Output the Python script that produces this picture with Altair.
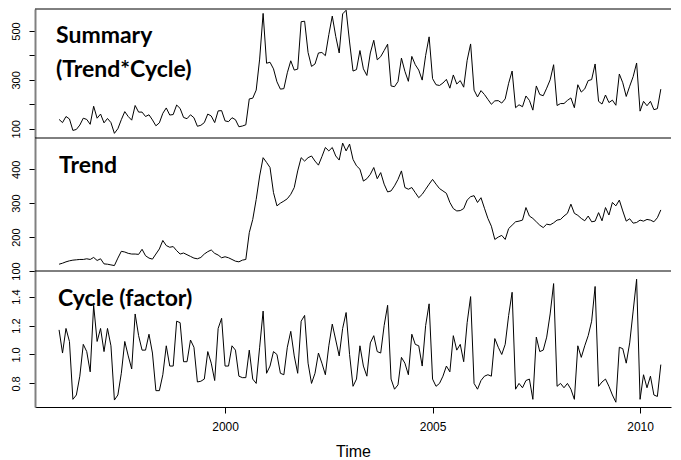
import altair as alt
import pandas as pd

# ---- data (monthly, Jan 1996 .. Jul 2010) ----
start_year = 1996

summary = [
    138, 125, 150, 140, 93, 97, 115, 143, 138, 118, 192, 143,
    160, 124, 142, 125, 81, 100, 137, 170, 150, 135, 195, 168,
    168, 150, 157, 136, 112, 124, 163, 185, 156, 158, 197, 183,
    146, 141, 157, 145, 110, 114, 125, 160, 152, 125, 173, 174,
    132, 129, 145, 137, 108, 111, 116, 222, 225, 258, 385, 572,
    368, 372, 345, 292, 262, 264, 329, 378, 340, 344, 538, 540,
    412, 355, 365, 410, 412, 399, 485, 561, 478, 410, 570, 585,
    455, 336, 342, 420, 345, 318, 410, 462, 382, 395, 420, 446,
    275, 272, 293, 389, 335, 294, 396, 362, 340, 299, 400, 476,
    305, 280, 277, 287, 302, 266, 320, 283, 297, 270, 380, 447,
    258, 230, 256, 240, 220, 200, 214, 215, 205, 222, 286, 336,
    186, 198, 190, 234, 216, 176, 275, 240, 235, 266, 300, 362,
    195, 203, 203, 216, 226, 186, 280, 250, 263, 297, 301, 365,
    212, 201, 238, 207, 217, 196, 324, 288, 232, 274, 313, 369,
    172, 212, 194, 212, 178, 182, 262,
]

trend = [
    120, 123, 127, 130, 132, 133, 134, 134, 136, 134, 140, 131,
    136, 121, 120, 118, 116, 138, 158, 156, 152, 150, 150, 149,
    164, 145, 138, 135, 150, 165, 190, 175, 170, 172, 160, 150,
    153, 148, 143, 138, 136, 140, 150, 157, 162, 152, 147, 139,
    142, 139, 134, 129, 127, 132, 134, 213, 252, 311, 380, 434,
    420, 405, 331, 292, 300, 306, 313, 326, 346, 395, 434, 424,
    434, 439, 424, 412, 437, 464, 454, 464, 439, 427, 477, 454,
    474, 429, 410, 400, 365, 372, 385, 405, 372, 390, 356, 333,
    336, 351, 370, 395, 346, 341, 346, 331, 316, 326, 341, 356,
    370, 356, 343, 336, 329, 302, 284, 277, 278, 284, 309, 319,
    322, 302, 316, 285, 255, 232, 193, 200, 205, 193, 225, 235,
    245, 247, 250, 287, 262, 255, 245, 235, 228, 238, 236, 242,
    250, 252, 262, 270, 297, 270, 264, 255, 248, 262, 245, 247,
    272, 248, 287, 265, 302, 292, 309, 277, 247, 254, 241, 243,
    250, 247, 252, 250, 245, 257, 280,
]

cycle = [
    1.17, 1.01, 1.18, 1.09, 0.69, 0.72, 0.85, 1.07, 1.02, 0.88, 1.34, 1.09,
    1.18, 1.02, 1.18, 1.06, 0.685, 0.72, 0.87, 1.09, 0.99, 0.90, 1.28, 1.13,
    1.03, 1.03, 1.14, 1.01, 0.75, 0.75, 0.86, 1.06, 0.92, 0.92, 1.23, 1.22,
    0.95, 0.95, 1.10, 1.05, 0.81, 0.815, 0.83, 1.02, 0.94, 0.82, 1.18, 1.25,
    0.92, 0.92, 1.06, 1.03, 0.85, 0.84, 0.84, 1.03, 0.83, 0.80, 1.05, 1.30,
    0.87, 0.92, 1.02, 1.00, 0.87, 0.86, 1.05, 1.16, 0.99, 0.87, 1.23, 1.27,
    0.94, 0.80, 0.87, 1.01, 0.94, 0.86, 1.06, 1.21, 1.10, 0.99, 1.18, 1.29,
    1.00, 0.78, 0.83, 1.06, 0.92, 0.85, 1.08, 1.13, 1.02, 1.01, 1.20, 1.34,
    0.83, 0.76, 0.79, 0.98, 0.94, 0.86, 1.14, 1.07, 1.06, 0.92, 1.20, 1.35,
    0.83, 0.78, 0.80, 0.85, 0.92, 0.88, 1.13, 1.03, 1.07, 0.95, 1.22, 1.40,
    0.80, 0.76, 0.82, 0.85, 0.86, 0.85, 1.11, 1.05, 1.00, 1.07, 1.27, 1.43,
    0.76, 0.80, 0.77, 0.82, 0.83, 0.69, 1.12, 1.02, 1.03, 1.12, 1.28, 1.49,
    0.78, 0.80, 0.77, 0.80, 0.76, 0.69, 1.06, 0.98, 1.06, 1.13, 1.23, 1.47,
    0.78, 0.81, 0.83, 0.78, 0.72, 0.67, 1.05, 1.04, 0.94, 1.08, 1.30, 1.52,
    0.69, 0.86, 0.77, 0.85, 0.72, 0.71, 0.93,
]

x_ticks = [2000, 2005, 2010]
summary_ticks = [100, 200, 300, 400, 500]
trend_ticks = [100, 200, 300, 400]
cycle_ticks = [0.8, 1.0, 1.2, 1.4]

# ---- layout ----
W = 636
X_DOMAIN = [1995.42, 1995.42 + W / 41.5]
LABEL_FONT = "Liberation Sans"
TITLE_FONT = "Lato"


def frame(values):
    n = len(values)
    return pd.DataFrame({"t": [start_year + i / 12 for i in range(n)], "v": values})


one = pd.DataFrame({"a": [0]})


def y_axis(values, label_expr=None, fmt=None):
    kw = dict(
        values=values, title=None, grid=False, tickSize=6, tickColor="black",
        domainColor="#808080", domainWidth=2, labelAngle=270, labelAlign="center",
        labelBaseline="alphabetic", labelPadding=10, labelFont=LABEL_FONT,
        labelFontSize=11, labelColor="black", labelFlush=False, labelOverlap=False,
    )
    if label_expr is not None:
        kw["labelExpr"] = label_expr
    if fmt is not None:
        kw["format"] = fmt
    return alt.Axis(**kw)


def panel(values, ydomain, height, axis, titles, xaxis=None):
    xs = alt.Scale(domain=X_DOMAIN, nice=False, zero=False)
    line = alt.Chart(frame(values)).mark_line(color="black", strokeWidth=1).encode(
        x=alt.X("t:Q", scale=xs, axis=xaxis),
        y=alt.Y("v:Q", scale=alt.Scale(domain=ydomain, nice=False, zero=False), axis=axis),
    )
    top = alt.Chart(one).mark_rule(color="black", strokeWidth=1).encode(
        x=alt.value(0), x2=alt.value(W), y=alt.value(0)
    )
    layers = [line, top]
    for txt, px, py in titles:
        layers.append(
            alt.Chart(one).mark_text(
                text=txt, align="left", baseline="alphabetic", font=TITLE_FONT,
                fontWeight="bold", fontSize=23, color="black",
            ).encode(x=alt.value(px), y=alt.value(py))
        )
    return alt.layer(*layers).properties(width=W, height=height)


p1 = panel(
    summary, [62, 590], 129,
    y_axis(summary_ticks, label_expr="datum.value % 200 == 100 ? datum.label : ''"),
    [("Summary", 21, 34), ("(Trend*Cycle)", 21, 68)],
)
p2 = panel(trend, [100, 492], 133, y_axis(trend_ticks), [("Trend", 24, 35)])
p3 = panel(
    cycle, [0.637, 1.577], 136, y_axis(cycle_ticks, fmt=".1f"),
    [("Cycle (factor)", 23, 35)],
    xaxis=alt.Axis(
        values=x_ticks, format="d", title="Time", grid=False, tickSize=6,
        tickColor="black", domainColor="black", domainWidth=1,
        labelFont=LABEL_FONT, labelFontSize=12, labelColor="black", labelPadding=8,
        labelFlush=False, titleFont=LABEL_FONT, titleFontSize=16,
        titleFontWeight="normal", titleColor="black", titlePadding=11,
    ),
)

chart = (
    alt.vconcat(p1, p2, p3, spacing=0, bounds="flush")
    .properties(padding={"left": 1, "top": 0, "right": 0, "bottom": 0})
    .configure_view(stroke=None)
)

chart.save("out.html", embed_options={"renderer": "svg", "actions": False})
